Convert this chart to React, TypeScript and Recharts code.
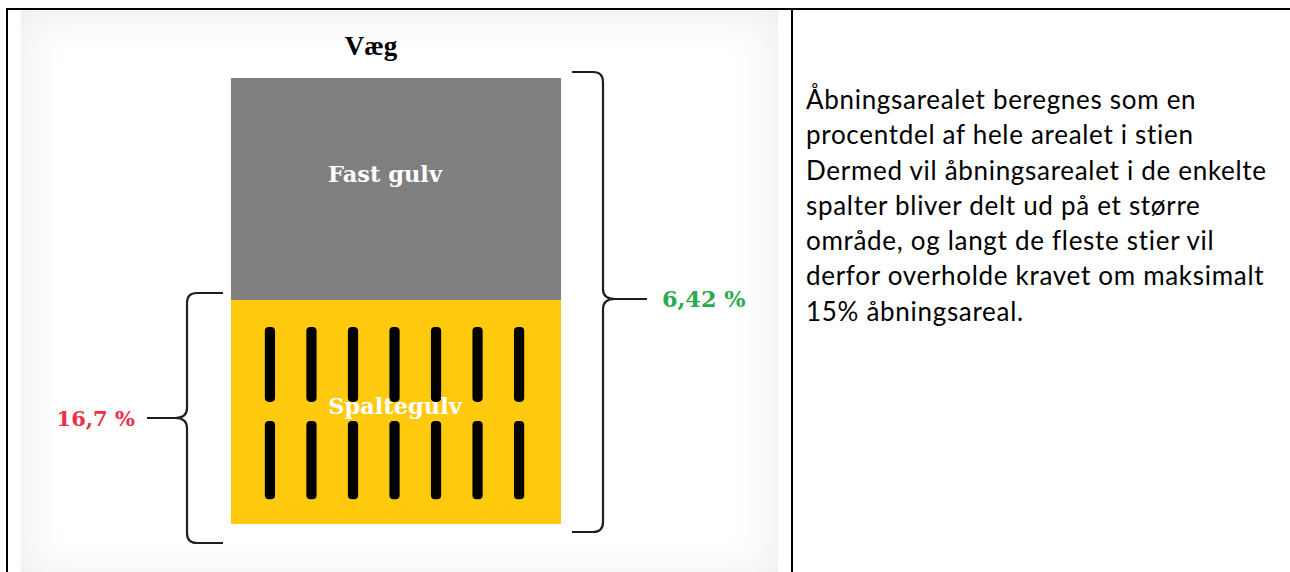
import React from 'react';
import { BarChart, Bar, XAxis, YAxis, ReferenceArea, LabelList } from 'recharts';

// ---- data ----
const categories = ['Væg'];
const spaltegulvValues = [224];
const fastGulvValues = [222];
const seriesNames = ['Spaltegulv', 'Fast gulv'];
const braceLabels = ['16,7 %', '6,42 %'];
const slotColumnCount = 7;
const slotRowCount = 2;
const descriptionLines = [
  'Åbningsarealet beregnes som en',
  'procentdel af hele arealet i stien',
  'Dermed vil åbningsarealet i de enkelte',
  'spalter bliver delt ud på et større',
  'område, og langt de fleste stier vil',
  'derfor overholde kravet om maksimalt',
  '15% åbningsareal.',
];

const data = categories.map((name, i) => ({
  name,
  spaltegulv: spaltegulvValues[i],
  fastGulv: fastGulvValues[i],
}));
const total = spaltegulvValues[0] + fastGulvValues[0];

const SERIF = '"DejaVu Serif", serif';
const BRACE_STROKE = '#1f1f1f';

const SlottedBar = (props: any) => {
  const { x, y, width, height, fill } = props;
  const slots: React.ReactNode[] = [];
  const slotW = width * 0.031;
  const rowFrac = [
    [0.12, 0.455],
    [0.54, 0.89],
  ];
  for (let r = 0; r < slotRowCount; r++) {
    for (let c = 0; c < slotColumnCount; c++) {
      const cx = x + width * (0.118 + (c * 0.755) / (slotColumnCount - 1));
      const top = y + height * rowFrac[r][0];
      const bottom = y + height * rowFrac[r][1];
      slots.push(
        <rect
          key={`s-${r}-${c}`}
          x={cx - slotW / 2}
          y={top}
          width={slotW}
          height={bottom - top}
          rx={slotW / 2.5}
          fill="#000"
        />
      );
    }
  }
  return (
    <g>
      <rect x={x} y={y} width={width} height={height} fill={fill} />
      {slots}
    </g>
  );
};

const LeftBrace = (p: any) => {
  const { x, y, height } = p;
  const v = x - 44;
  const hookX = x - 8;
  const top = y - 7;
  const bot = y + height + 19;
  const mid = (top + bot) / 2;
  const tipX = v - 40;
  const r = 10;
  const d = `M ${hookX} ${top} L ${v + r} ${top} Q ${v} ${top} ${v} ${top + r} L ${v} ${mid - r} Q ${v} ${mid} ${v - 12} ${mid} L ${tipX} ${mid} M ${v - 12} ${mid} Q ${v} ${mid} ${v} ${mid + r} L ${v} ${bot - r} Q ${v} ${bot} ${v + r} ${bot} L ${hookX} ${bot}`;
  return (
    <g>
      <path d={d} fill="none" stroke={BRACE_STROKE} strokeWidth={2.2} />
      <text x={tipX - 12} y={mid + 8} textAnchor="end" fontFamily={SERIF} fontWeight="bold" fontSize={21} fill="#e9304a">
        {braceLabels[0]}
      </text>
    </g>
  );
};

const RightBrace = (p: any) => {
  const { x, y, width, height } = p;
  const right = x + width;
  const v = right + 42;
  const hookX = right + 11;
  const top = y - 6;
  const bot = y + height + 8;
  const mid = (top + bot) / 2 - 3;
  const tipX = v + 44;
  const r = 10;
  const d = `M ${hookX} ${top} L ${v - r} ${top} Q ${v} ${top} ${v} ${top + r} L ${v} ${mid - r} Q ${v} ${mid} ${v + 12} ${mid} L ${tipX} ${mid} M ${v + 12} ${mid} Q ${v} ${mid} ${v} ${mid + r} L ${v} ${bot - r} Q ${v} ${bot} ${v - r} ${bot} L ${hookX} ${bot}`;
  return (
    <g>
      <path d={d} fill="none" stroke={BRACE_STROKE} strokeWidth={2.2} />
      <text x={tipX + 15} y={mid + 8} textAnchor="start" fontFamily={SERIF} fontWeight="bold" fontSize={22.4} fill="#2aa94e">
        {braceLabels[1]}
      </text>
    </g>
  );
};

const BarLabel = (dx: number, dy: number, text: string) => (p: any) => {
  const { x, y, width, height } = p;
  return (
    <text
      x={x + width / 2 + dx}
      y={y + height / 2 + dy}
      textAnchor="middle"
      fontFamily={SERIF}
      fontWeight="bold"
      fontSize={22.5}
      fill="#ffffff"
    >
      {text}
    </text>
  );
};

const TopTick = (p: any) => (
  <text
    x={p.x - 25}
    y={p.y - 15}
    textAnchor="middle"
    fontFamily='"Liberation Serif", serif'
    fontWeight="bold"
    fontSize={27}
    fill="#000"
  >
    {p.payload.value}
  </text>
);

export default function App() {
  return (
    <div
      style={{
        position: 'absolute',
        left: 0,
        top: 0,
        width: 1290,
        height: 572,
        overflow: 'hidden',
        background: '#fff',
      }}
    >
      {/* table borders */}
      <div style={{ position: 'absolute', left: 6, top: 8, width: 1284, height: 2, background: '#000' }} />
      <div style={{ position: 'absolute', left: 6, top: 8, width: 2, height: 564, background: '#000' }} />
      <div style={{ position: 'absolute', left: 791, top: 8, width: 2, height: 564, background: '#000' }} />

      {/* image backdrop with soft edges */}
      <div
        style={{
          position: 'absolute',
          left: 21,
          top: 10,
          width: 757,
          height: 572,
          background: '#fff',
          boxShadow: 'inset 0 0 40px 8px #efefef',
        }}
      />

      <div style={{ position: 'absolute', left: 0, top: 0 }}>
        <BarChart
          width={790}
          height={572}
          data={data}
          margin={{ top: 48, right: 229, bottom: 48, left: 231 }}
          barCategoryGap={0}
        >
          <XAxis
            dataKey="name"
            orientation="top"
            axisLine={false}
            tickLine={false}
            height={30}
            tick={TopTick}
          />
          <YAxis hide domain={[0, total]} />
          <Bar dataKey="spaltegulv" name={seriesNames[0]} stackId="a" fill="#ffc90e" shape={SlottedBar} isAnimationActive={false}>
            <LabelList dataKey="spaltegulv" content={BarLabel(-1, 2, seriesNames[0])} />
          </Bar>
          <Bar dataKey="fastGulv" name={seriesNames[1]} stackId="a" fill="#7f7f7f" isAnimationActive={false}>
            <LabelList dataKey="fastGulv" content={BarLabel(-11, -7, seriesNames[1])} />
          </Bar>
          <ReferenceArea y1={0} y2={spaltegulvValues[0]} ifOverflow="visible" shape={LeftBrace} />
          <ReferenceArea y1={0} y2={total} ifOverflow="visible" shape={RightBrace} />
        </BarChart>
      </div>

      {/* right cell text */}
      <div
        style={{
          position: 'absolute',
          left: 806,
          top: 82,
          fontFamily: 'Lato, sans-serif',
          fontSize: 26,
          letterSpacing: '0.7px',
          lineHeight: '35.3px',
          color: '#000',
          whiteSpace: 'nowrap',
        }}
      >
        {descriptionLines.map((l, i) => (
          <div key={i}>{l}</div>
        ))}
      </div>
    </div>
  );
}
